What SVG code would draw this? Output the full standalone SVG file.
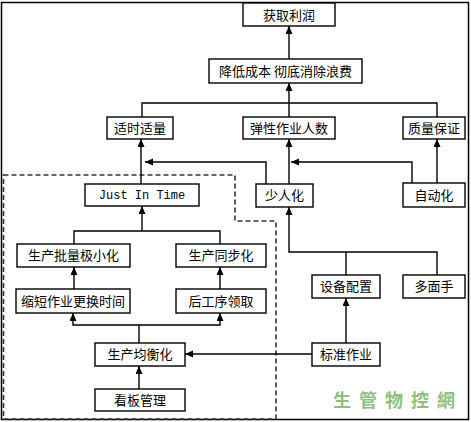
<svg xmlns="http://www.w3.org/2000/svg" width="471" height="422" viewBox="0 0 471 422">
<style>
.box{fill:#fff;stroke:#000;stroke-width:1.4}
.t{font-family:"Noto Sans CJK SC","Liberation Sans",sans-serif;font-size:13px;fill:#000;text-anchor:middle}
.m{font-family:"Liberation Mono",monospace;font-size:12px;fill:#000;text-anchor:middle}
.c{fill:none;stroke:#000;stroke-width:1.4}
</style>
<defs>
<marker id="ah" markerUnits="userSpaceOnUse" markerWidth="10" markerHeight="8" refX="8" refY="3.5" orient="auto">
<path d="M0,0 L8,3.5 L0,7 Z" fill="#000"/>
</marker>
</defs>
<rect x="1.5" y="2.5" width="467" height="417" fill="#fff" stroke="#000" stroke-width="1.5"/>
<path d="M3.5,175 H235 V221 H276 V419 H3.5 Z" fill="none" stroke="#333" stroke-width="1.6" stroke-dasharray="5,3"/>
<g id="connectors">
<path class="c" d="M289,59 V26" marker-end="url(#ah)"/>
<path class="c" d="M142,117 V103 H437 V117"/>
<path class="c" d="M289,117 V83" marker-end="url(#ah)"/>
<path class="c" d="M141,184 V139" marker-end="url(#ah)"/>
<path class="c" d="M266,184 V162 H145" marker-end="url(#ah)"/>
<path class="c" d="M289,184 V139" marker-end="url(#ah)"/>
<path class="c" d="M412,183 V162 H291" marker-end="url(#ah)"/>
<path class="c" d="M437,183 V139" marker-end="url(#ah)"/>
<path class="c" d="M74,244 V231 H220 V244"/>
<path class="c" d="M142,231 V206" marker-end="url(#ah)"/>
<path class="c" d="M74,289 V267" marker-end="url(#ah)"/>
<path class="c" d="M220,289 V267" marker-end="url(#ah)"/>
<path class="c" d="M139,343 V325 H73 V313" marker-end="url(#ah)"/>
<path class="c" d="M139,325 H220 V313" marker-end="url(#ah)"/>
<path class="c" d="M139,389 V366" marker-end="url(#ah)"/>
<path class="c" d="M312,354 H185" marker-end="url(#ah)"/>
<path class="c" d="M346,343 V298" marker-end="url(#ah)"/>
<path class="c" d="M346,275 V252"/>
<path class="c" d="M437,275 V252 H289 V207" marker-end="url(#ah)"/>
</g>
<g id="n1"><rect class="box" x="243" y="3" width="92" height="23"/><text class="t" x="289" y="19.5">获取利润</text></g>
<g id="n2"><rect class="box" x="209" y="59" width="153" height="24"/><text class="t" x="285.5" y="76">降低成本 彻底消除浪费</text></g>
<g id="n3"><rect class="box" x="107" y="117" width="66" height="22"/><text class="t" x="140" y="132.5">适时适量</text></g>
<g id="n4"><rect class="box" x="243" y="117" width="92" height="22"/><text class="t" x="289" y="132.5">弹性作业人数</text></g>
<g id="n5"><rect class="box" x="403" y="117" width="62" height="22"/><text class="t" x="434" y="132.5">质量保证</text></g>
<g id="n6"><rect class="box" x="85" y="184" width="114" height="22"/><text class="m" x="142" y="199">Just In Time</text></g>
<g id="n7"><rect class="box" x="256" y="184" width="57" height="23"/><text class="t" x="284.5" y="200">少人化</text></g>
<g id="n8"><rect class="box" x="403" y="183" width="62" height="24"/><text class="t" x="434" y="199.5">自动化</text></g>
<g id="n9"><rect class="box" x="17" y="244" width="113" height="23"/><text class="t" x="73.5" y="260">生产批量极小化</text></g>
<g id="n10"><rect class="box" x="176" y="244" width="90" height="23"/><text class="t" x="221" y="260">生产同步化</text></g>
<g id="n11"><rect class="box" x="16" y="289" width="114" height="24"/><text class="t" x="73" y="305.5">缩短作业更换时间</text></g>
<g id="n12"><rect class="box" x="176" y="289" width="90" height="24"/><text class="t" x="221" y="305.5">后工序领取</text></g>
<g id="n13"><rect class="box" x="312" y="275" width="68" height="23"/><text class="t" x="346" y="291">设备配置</text></g>
<g id="n14"><rect class="box" x="403" y="275" width="62" height="23"/><text class="t" x="434" y="291">多面手</text></g>
<g id="n15"><rect class="box" x="95" y="343" width="90" height="23"/><text class="t" x="140" y="359">生产均衡化</text></g>
<g id="n16"><rect class="box" x="312" y="343" width="68" height="23"/><text class="t" x="346" y="359">标准作业</text></g>
<g id="n17"><rect class="box" x="95" y="389" width="90" height="22"/><text class="t" x="140" y="404.5">看板管理</text></g>
<text x="398" y="407" font-family="'Noto Sans CJK TC','Noto Sans CJK SC',sans-serif" font-size="18" font-weight="bold" letter-spacing="8" fill="#8dbf7d" text-anchor="middle">生管物控網</text>
</svg>
